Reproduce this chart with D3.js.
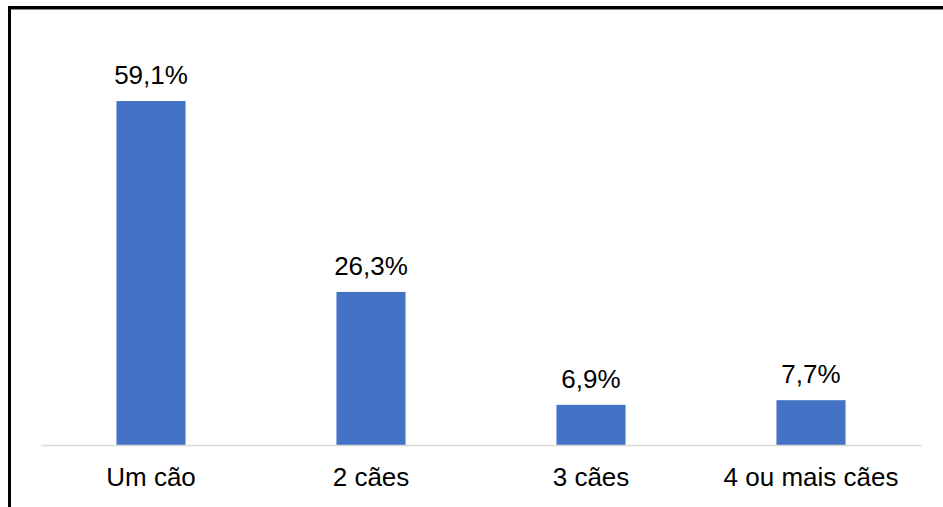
<!DOCTYPE html>
<html>
<head>
<meta charset="utf-8">
<script src="https://cdn.jsdelivr.net/npm/d3@7"></script>
<style>
  html, body { margin: 0; padding: 0; background: #fff; }
  svg { display: block; }
</style>
</head>
<body>
<svg id="chart" width="943" height="507"></svg>
<script>
// Número de cães por domicílio (%)
const categories = ["Um cão", "2 cães", "3 cães", "4 ou mais cães"];
const values = [59.1, 26.3, 6.9, 7.7];
const valueLabels = ["59,1%", "26,3%", "6,9%", "7,7%"];

const W = 943, H = 507;
const svg = d3.select("#chart");
const font = "Liberation Sans, Arial, sans-serif";
const fontSize = 26;

// Outer frame (top and left edges visible)
svg.append("path")
  .attr("d", `M9.5,${H} L9.5,7.5 L${W},7.5`)
  .attr("fill", "none")
  .attr("stroke", "#000")
  .attr("stroke-width", 3);
svg.append("line")
  .attr("x1", 11).attr("x2", W).attr("y1", 9.5).attr("y2", 9.5)
  .attr("stroke", "#888").attr("stroke-width", 1);

const x = d3.scaleBand()
  .domain(categories)
  .range([41, 921])
  .paddingInner(0.686)
  .paddingOuter(0.343);

const y = d3.scaleLinear()
  .domain([0, 60])
  .range([445, 95.8]);

// Bars
svg.append("g").selectAll("rect")
  .data(values)
  .join("rect")
  .attr("x", (d, i) => x(categories[i]))
  .attr("y", d => y(d))
  .attr("width", x.bandwidth())
  .attr("height", d => y(0) - y(d))
  .attr("fill", "#4472C4");

// Category axis
const axis = d3.axisBottom(x).tickSize(0).tickPadding(0);
const gx = svg.append("g")
  .attr("transform", `translate(0,${y(0)})`)
  .call(axis);
gx.select(".domain").attr("stroke", "#d9d9d9").attr("stroke-width", 1.5);
gx.selectAll("text")
  .attr("font-family", font)
  .attr("font-size", fontSize)
  .attr("fill", "#000")
  .attr("dy", 0)
  .attr("y", 41);

// Value labels
svg.append("g").selectAll("text")
  .data(values)
  .join("text")
  .attr("x", (d, i) => x(categories[i]) + x.bandwidth() / 2)
  .attr("y", d => y(d) - 17)
  .attr("text-anchor", "middle")
  .attr("font-family", font)
  .attr("font-size", fontSize)
  .attr("fill", "#000")
  .text((d, i) => valueLabels[i]);
</script>
</body>
</html>
